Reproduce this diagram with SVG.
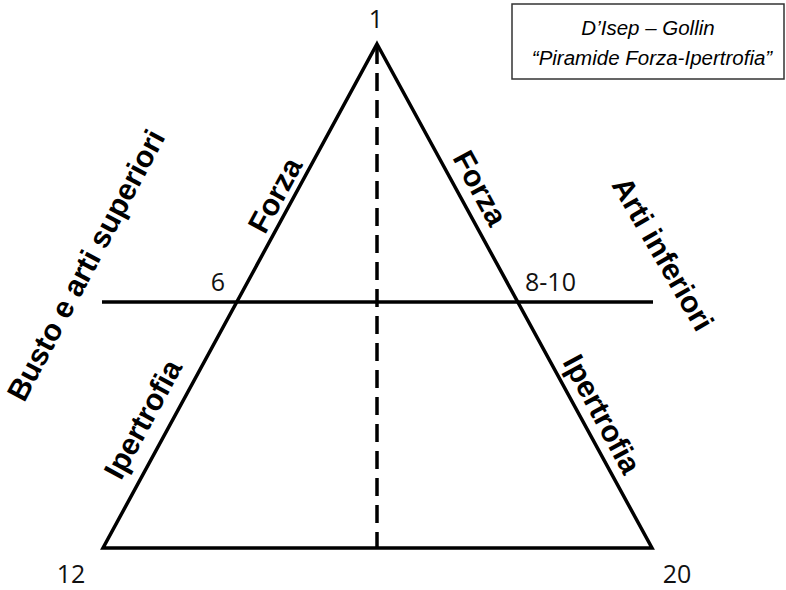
<svg xmlns="http://www.w3.org/2000/svg" width="786" height="590" viewBox="0 0 786 590">
<style>
.line{stroke:#000;stroke-width:3.5;fill:none;stroke-linejoin:miter}
.dash{stroke:#000;stroke-width:3.5;stroke-dasharray:18 9;fill:none}
.num{font-family:"Open Sans","Liberation Sans",sans-serif;font-size:25px;fill:#111}
.lbl{font-family:"Liberation Sans",Arial,sans-serif;font-size:30px;font-weight:bold;fill:#000}
.title{font-family:"Liberation Sans",Arial,sans-serif;font-size:20.5px;font-style:italic;fill:#000}
</style>
<rect width="786" height="590" fill="#fff"/>
<g id="connectors">
<polygon class="line" points="377,44 652,548 103,548"/>
<line class="line" x1="102" y1="302" x2="653" y2="302"/>
<line class="dash" x1="377" y1="46" x2="377" y2="548"/>
</g>
<g id="title-box">
<rect x="512" y="4" width="272" height="75" fill="#fff" stroke="#333" stroke-width="1.5"/>
<text class="title" x="648" y="35" text-anchor="middle">D’Isep – Gollin</text>
<text class="title" x="652" y="65" text-anchor="middle">“Piramide Forza-Ipertrofia”</text>
</g>
<g id="n1"><text class="num" x="376" y="28" text-anchor="middle">1</text></g>
<g id="n6"><text class="num" x="218" y="291" text-anchor="middle">6</text></g>
<g id="n8-10"><text class="num" x="525" y="291">8-10</text></g>
<g id="n12"><text class="num" x="71" y="583" text-anchor="middle">12</text></g>
<g id="n20"><text class="num" x="677" y="583" text-anchor="middle">20</text></g>
<g id="forza-left"><text class="lbl" text-anchor="middle" transform="translate(284,200) rotate(-61.5)">Forza</text></g>
<g id="forza-right"><text class="lbl" text-anchor="middle" transform="translate(471,193) rotate(61.5)">Forza</text></g>
<g id="ipertrofia-left"><text class="lbl" text-anchor="middle" transform="translate(152,424) rotate(-61.5)">Ipertrofia</text></g>
<g id="ipertrofia-right"><text class="lbl" text-anchor="middle" transform="translate(593,419) rotate(61.5)">Ipertrofia</text></g>
<g id="busto"><text class="lbl" text-anchor="middle" transform="translate(95,270) rotate(-62)">Busto e arti superiori</text></g>
<g id="arti-inferiori"><text class="lbl" text-anchor="middle" transform="translate(654,259) rotate(60)">Arti inferiori</text></g>
</svg>
